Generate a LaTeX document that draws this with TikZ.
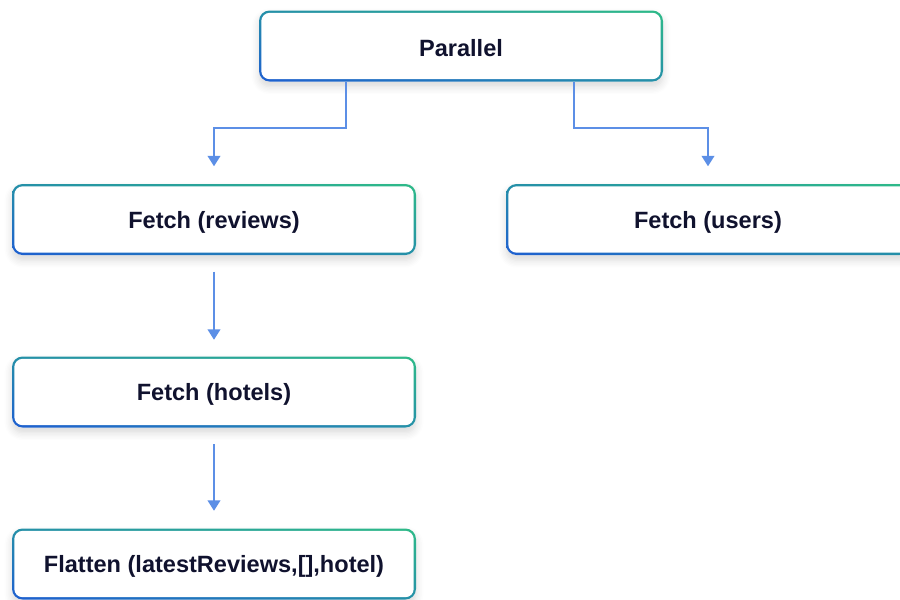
\documentclass[tikz,border=0pt]{standalone}
\usepackage{fontspec}
\setmainfont{Liberation Sans}
\usetikzlibrary{arrows.meta, shadings, shadows.blur}

\definecolor{bdblue}{HTML}{1E5FD0}
\definecolor{bdmid}{HTML}{2590A8}
\definecolor{bdgreen}{HTML}{2EBA88}
\definecolor{txtnavy}{HTML}{10122E}
\definecolor{flowblue}{HTML}{5C8FE6}

\newcommand{\lowtext}[1]{\raisebox{-0.7pt}[\height][\depth]{#1}}

\tikzset{
  box/.style={rectangle, rounded corners=3pt, minimum width=4.04cm,
    minimum height=0.71cm, inner sep=0pt, fill=white,
    font=\fontsize{6.7}{8}\selectfont\bfseries, text=txtnavy,
    blur shadow={shadow xshift=0pt, shadow yshift=-1.5pt,
      shadow blur steps=6, shadow opacity=15},
    path picture={
      \shade[lower left=bdblue, upper right=bdgreen, upper left=bdmid,
        lower right=bdmid]
        (path picture bounding box.south west) rectangle
        (path picture bounding box.north east);
      \fill[white, rounded corners=2.4pt]
        ([shift={(0.65pt,0.65pt)}]path picture bounding box.south west) rectangle
        ([shift={(-0.65pt,-0.65pt)}]path picture bounding box.north east);
    }},
  flow/.style={draw=flowblue, line width=0.6pt,
    -{Triangle[length=3pt,width=3.6pt]}}
}

\begin{document}
\begin{tikzpicture}
  \useasboundingbox (0,0) rectangle (9,-5.99);

  % the boxes
  \node[box] (par)   at (4.61,-0.46)  {\lowtext{Parallel}};
  \node[box] (rev)   at (2.14,-2.195) {\lowtext{Fetch (reviews)}};
  \node[box] (users) at (7.08,-2.195) {\lowtext{Fetch (users)}};
  \node[box] (hot)   at (2.14,-3.92)  {\lowtext{Fetch (hotels)}};
  \node[box] (flat)  at (2.14,-5.64)  {\lowtext{Flatten (latestReviews,[],hotel)}};

  % parallel branches
  \draw[flow, shorten >=0.17cm] ([xshift=-1.15cm]par.south) -- ++(0,-0.46) -| (rev.north);
  \draw[flow, shorten >=0.17cm] ([xshift=1.13cm]par.south) -- ++(0,-0.46) -| (users.north);

  % sequence
  \draw[flow, shorten <=0.16cm, shorten >=0.16cm] (rev.south) -- (hot.north);
  \draw[flow, shorten <=0.16cm, shorten >=0.17cm] (hot.south) -- (flat.north);
\end{tikzpicture}
\end{document}
